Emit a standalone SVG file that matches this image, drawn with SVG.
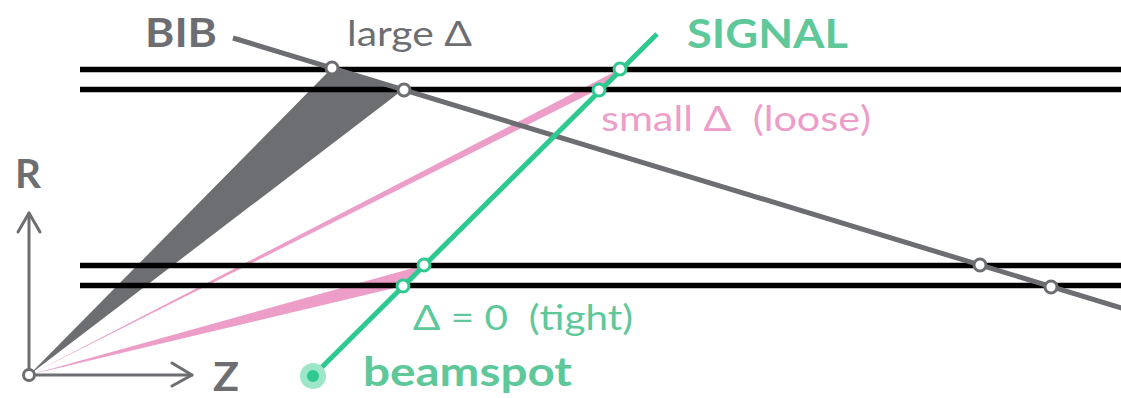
<svg xmlns="http://www.w3.org/2000/svg" width="1121" height="398" viewBox="0 0 1121 398">
<defs>
<style>
.layer{stroke:#000;stroke-width:5.5}
.gray{fill:#6d6e72}
.pink{fill:#ec9ec9}
.bib{stroke:#6d6e72;stroke-width:5;fill:none}
.sig{stroke:#2ec98f;stroke-width:5;fill:none}
.axis{stroke:#6d6e72;stroke-width:3;fill:none;stroke-linecap:round;stroke-linejoin:round}
.hitg{fill:#fff;stroke:#6d6e72;stroke-width:3}
.hits{fill:#fff;stroke:#2ec98f;stroke-width:3}
text{font-family:Lato,"Open Sans","Liberation Sans",sans-serif}
.big{font-size:41px;font-weight:bold}
.lab{font-size:35px}
</style>
</defs>
<g id="wedges">
<polygon class="gray" points="29,375 332,68 404,89"/>
<polygon class="pink" points="29,375 620,69 599,89"/>
<polygon class="pink" points="29,375 424,265 403,286"/>
</g>
<g id="layers">
<line class="layer" x1="80" y1="69.5" x2="1121" y2="69.5"/>
<line class="layer" x1="80" y1="89.5" x2="1121" y2="89.5"/>
<line class="layer" x1="80" y1="265.5" x2="1121" y2="265.5"/>
<line class="layer" x1="80" y1="285.5" x2="1121" y2="285.5"/>
</g>
<g id="connectors">
<line class="bib" x1="233" y1="38" x2="1125" y2="309"/>
<line class="sig" x1="313" y1="376" x2="657" y2="34"/>
</g>
<g id="axes">
<polyline class="axis" points="29,375 29,213"/>
<polyline class="axis" points="18,232 29,213 40,232"/>
<polyline class="axis" points="29,375 192,375"/>
<polyline class="axis" points="172,363 192,375 172,386"/>
<circle cx="29" cy="375" r="5.5" class="hitg"/>
<text x="15" y="188" class="big" fill="#6d6e72" textLength="26" lengthAdjust="spacingAndGlyphs">R</text>
<text x="213" y="391" class="big" fill="#6d6e72" font-size="44" textLength="26" lengthAdjust="spacingAndGlyphs">Z</text>
</g>
<g id="bib-hits">
<circle cx="332" cy="68" r="6" class="hitg"/>
<circle cx="404" cy="90" r="6" class="hitg"/>
<circle cx="980" cy="265" r="6" class="hitg"/>
<circle cx="1051" cy="287" r="6" class="hitg"/>
</g>
<g id="signal-hits">
<circle cx="620" cy="69" r="6" class="hits"/>
<circle cx="599" cy="90" r="6" class="hits"/>
<circle cx="424" cy="265" r="6" class="hits"/>
<circle cx="403" cy="286" r="6" class="hits"/>
</g>
<g id="beamspot">
<circle cx="313" cy="376" r="13" fill="#9ee6c8"/>
<circle cx="313" cy="376" r="6" fill="#2ec98f"/>
<text x="363" y="386" class="big" fill="#5ec89a" font-size="44" textLength="209" lengthAdjust="spacingAndGlyphs">beamspot</text>
</g>
<g id="labels">
<text x="145" y="47" class="big" fill="#6d6e72" textLength="72" lengthAdjust="spacingAndGlyphs">BIB</text>
<text x="347" y="46" class="lab" fill="#6d6e72" textLength="125" lengthAdjust="spacingAndGlyphs">large Δ</text>
<text x="687" y="48" class="big" fill="#5ec89a" textLength="161" lengthAdjust="spacingAndGlyphs">SIGNAL</text>
<text x="601" y="131" class="lab" fill="#ec9ec9" xml:space="preserve" textLength="270" lengthAdjust="spacingAndGlyphs">small Δ  (loose)</text>
<text x="413" y="330" class="lab" fill="#5ec89a" xml:space="preserve" textLength="220" lengthAdjust="spacingAndGlyphs">Δ = 0  (tight)</text>
</g>
</svg>
